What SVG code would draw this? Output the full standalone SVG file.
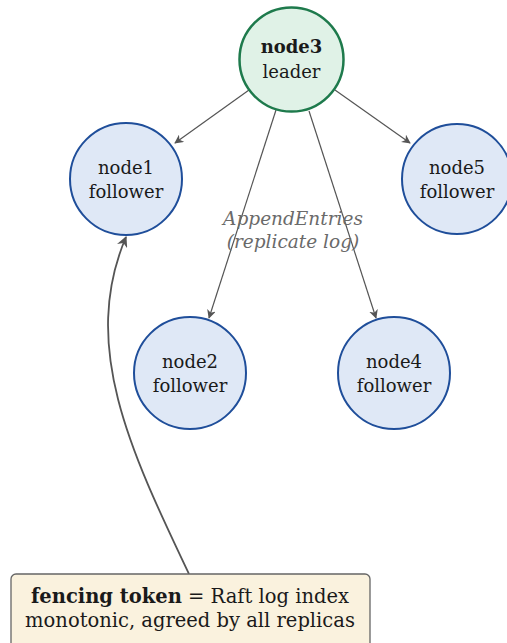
<svg xmlns="http://www.w3.org/2000/svg" width="507" height="643" viewBox="0 0 507 643">
<defs>
<style>
.f{fill:#dfe8f6;stroke:#1f4e9a;stroke-width:2}
.l{fill:#e0f2e7;stroke:#1e7a4c;stroke-width:2.5}
text{font-family:"DejaVu Serif","Liberation Serif",serif;font-size:18px;fill:#1a1a1a;text-anchor:middle}
.e{stroke:#555;stroke-width:1.2;fill:none;marker-end:url(#a)}
text.lab{font-style:italic;fill:#6a6a6a;font-size:18.5px}
text.big{font-size:19.5px}
</style>
<marker id="a" viewBox="0 0 10 10" refX="9" refY="5" markerWidth="9" markerHeight="9" orient="auto" markerUnits="userSpaceOnUse"><path d="M0,0 L10,5 L0,10 L3,5 Z" fill="#555"/></marker>
<marker id="b" viewBox="0 0 10 10" refX="9" refY="5" markerWidth="11" markerHeight="11" orient="auto" markerUnits="userSpaceOnUse"><path d="M0,0 L10,5 L0,10 L3,5 Z" fill="#555"/></marker>
</defs>
<g id="connectors">
<line class="e" x1="249" y1="90" x2="175" y2="143"/>
<line class="e" x1="335" y1="90" x2="410" y2="143"/>
<line class="e" x1="276" y1="110" x2="209" y2="318"/>
<line class="e" x1="309" y1="111" x2="376" y2="318"/>
<path d="M189,574 C130,450 80,345 126,237" fill="none" stroke="#555" stroke-width="1.8" marker-end="url(#b)"/>
<text class="lab" x="293" y="225">AppendEntries</text>
<text class="lab" x="293" y="248">(replicate log)</text>
</g>
<g id="node3"><circle class="l" cx="291.5" cy="59.5" r="52"/><text x="291.5" y="53" font-weight="bold">node3</text><text x="291.5" y="78">leader</text></g>
<g id="node1"><circle class="f" cx="126" cy="179" r="56"/><text x="126" y="174">node1</text><text x="126" y="198">follower</text></g>
<g id="node5"><circle class="f" cx="457" cy="179" r="55"/><text x="457" y="174">node5</text><text x="457" y="198">follower</text></g>
<g id="node2"><circle class="f" cx="190" cy="373" r="56"/><text x="190" y="368">node2</text><text x="190" y="392">follower</text></g>
<g id="node4"><circle class="f" cx="394" cy="373" r="56"/><text x="394" y="368">node4</text><text x="394" y="392">follower</text></g>
<g id="fence"><rect x="11" y="574" width="359" height="76" rx="5" fill="#faf2de" stroke="#666" stroke-width="1.3"/><text class="big" x="190" y="603"><tspan font-weight="bold">fencing token</tspan> = Raft log index</text><text class="big" x="190" y="627">monotonic, agreed by all replicas</text></g>
</svg>
